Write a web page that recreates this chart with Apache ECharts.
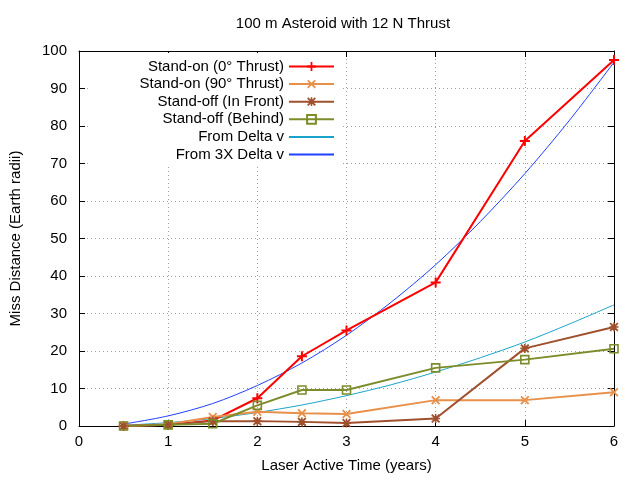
<!DOCTYPE html>
<html>
<head>
<meta charset="utf-8">
<script src="https://cdn.jsdelivr.net/npm/echarts@6/dist/echarts.min.js"></script>
<style>
  html, body { margin: 0; padding: 0; background: #fff; }
  #main { width: 640px; height: 480px; }
</style>
</head>
<body>
<div id="main"></div>
<script>
// measured points (years)
const years = [0.5, 1, 1.5, 2, 2.5, 3, 4, 5, 6];
const standOn0 = [0, 0.3, 1.5, 7.4, 18.6, 25.5, 38.3, 76, 97.6];
const standOn90 = [0, 0.5, 2.4, 3.8, 3.4, 3.2, 6.9, 6.9, 9.0];
const standOffFront = [0, 0.3, 1.3, 1.3, 1.1, 0.8, 2.0, 20.7, 26.4];
const standOffBehind = [0, 0.3, 0.6, 5.5, 9.6, 9.6, 15.5, 17.7, 20.6];

// smooth reference curves
const curveYears = [0.5, 1, 1.5, 2, 2.5, 3, 3.5, 4, 4.5, 5, 5.5, 6];
const deltaV = [0.2, 0.9, 2.0, 3.6, 5.6, 8.1, 11.0, 14.4, 18.2, 22.4, 27.2, 32.3];
const deltaV3x = [0.5, 2.7, 6.0, 10.8, 16.8, 24.2, 33.0, 43.0, 54.5, 67.3, 81.5, 97.0];

const xTicks = { min: 0, max: 6, interval: 1 };
const yTicks = { min: 0, max: 100, interval: 10 };

const FONT = 'Liberation Sans';

const pairs = (xs, ys) => xs.map((x, i) => [x, ys[i]]);

const plusPath = 'path://M3.6,0H5.4V3.6H9V5.4H5.4V9H3.6V5.4H0V3.6H3.6Z';
const crossPath = 'path://M0,1.3L1.3,0L4.5,3.2L7.7,0L9,1.3L5.8,4.5L9,7.7L7.7,9L4.5,5.8L1.3,9L0,7.7L3.2,4.5Z';
const starPath = crossPath + 'M3.7,0H5.3V3.7H9V5.3H5.3V9H3.7V5.3H0V3.7H3.7Z';

const markSeries = (name, ys, col, symbol, size) => ({
    name: name,
    type: 'line',
    data: pairs(years, ys),
    symbol: symbol,
    symbolSize: size,
    showAllSymbol: true,
    color: col,
    lineStyle: { color: col, width: 2 },
    itemStyle: { color: col, borderWidth: 0 },
    emphasis: { disabled: true },
    z: 3
});

const curveSeries = (name, ys, col) => ({
    name: name,
    type: 'line',
    data: pairs(curveYears, ys),
    smooth: 0.3,
    symbol: 'none',
    color: col,
    lineStyle: { color: col, width: 1 },
    // transparent so the legend shows just the line
    itemStyle: { color: 'rgba(0,0,0,0)' },
    emphasis: { disabled: true },
    z: 2
});

const chart = echarts.init(document.getElementById('main'));

const gridLine = { show: true, lineStyle: { color: '#a0a0a0', type: [1, 3], width: 1 } };
const border = { show: true, onZero: false, lineStyle: { color: '#000', width: 1 } };
const tick = { show: true, inside: true, length: 6, lineStyle: { color: '#000' } };

const option = {
    animation: false,
    backgroundColor: '#fff',
    textStyle: { fontFamily: FONT },
    title: {
        text: '100 m Asteroid with 12 N Thrust',
        left: 343,
        top: 16,
        padding: 0,
        textAlign: 'center',
        textStyle: { fontSize: 15, fontWeight: 'normal', color: '#000', fontFamily: FONT }
    },
    grid: { left: 78, right: 26, top: 51, bottom: 54 },
    legend: {
        orient: 'vertical',
        align: 'right',
        right: 299,
        top: 53,
        padding: [6, 6, 3, 50],
        backgroundColor: '#fff',
        itemWidth: 45,
        itemHeight: 11,
        itemGap: 2.6,
        textStyle: { fontSize: 15, color: '#000', fontFamily: FONT, lineHeight: 15 },
        data: ['Stand-on (0° Thrust)', 'Stand-on (90° Thrust)', 'Stand-off (In Front)',
            'Stand-off (Behind)', 'From Delta v', 'From 3X Delta v']
    },
    xAxis: [
        {
            type: 'value', position: 'bottom', ...xTicks,
            name: 'Laser Active Time (years)',
            nameLocation: 'middle',
            nameGap: 32,
            nameTextStyle: { fontSize: 15, color: '#000', fontFamily: FONT },
            axisLine: border, axisTick: tick,
            axisLabel: { color: '#000', fontSize: 15, margin: 8, fontFamily: FONT },
            splitLine: gridLine
        },
        {
            type: 'value', position: 'top', ...xTicks,
            axisLine: border, axisTick: tick,
            axisLabel: { show: false }, splitLine: { show: false }
        }
    ],
    yAxis: [
        {
            type: 'value', position: 'left', ...yTicks,
            name: 'Miss Distance (Earth radii)',
            nameLocation: 'middle',
            nameGap: 56,
            nameTextStyle: { fontSize: 15, color: '#000', fontFamily: FONT },
            axisLine: border, axisTick: tick,
            axisLabel: { color: '#000', fontSize: 15, margin: 12, fontFamily: FONT },
            splitLine: gridLine
        },
        {
            type: 'value', position: 'right', ...yTicks,
            axisLine: border, axisTick: tick,
            axisLabel: { show: false }, splitLine: { show: false }
        }
    ],
    series: [
        markSeries('Stand-on (0° Thrust)', standOn0, '#ff0000', plusPath, 10),
        markSeries('Stand-on (90° Thrust)', standOn90, '#e8904a', crossPath, 9),
        markSeries('Stand-off (In Front)', standOffFront, '#a0502d', starPath, 9),
        {
            name: 'Stand-off (Behind)',
            type: 'line',
            data: pairs(years, standOffBehind),
            symbol: 'rect',
            symbolSize: 8,
            color: '#7c8c2a',
            lineStyle: { color: '#7c8c2a', width: 2 },
            itemStyle: { color: 'rgba(255,255,255,0)', borderColor: '#7c8c2a', borderWidth: 1.6 },
            emphasis: { disabled: true },
            z: 3
        },
        curveSeries('From Delta v', deltaV, '#1aa3c8'),
        curveSeries('From 3X Delta v', deltaV3x, '#2040ff')
    ]
};

chart.setOption(option);
</script>
</body>
</html>
